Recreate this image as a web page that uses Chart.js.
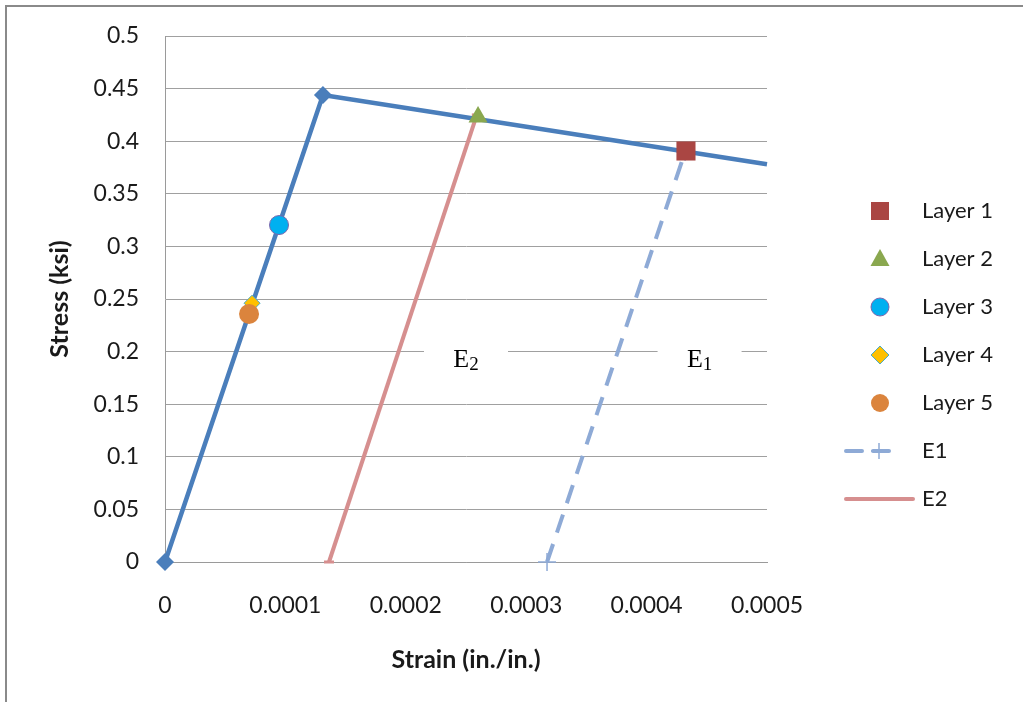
<!DOCTYPE html>
<html>
<head>
<meta charset="utf-8">
<script src="https://cdn.jsdelivr.net/npm/chart.js@4/dist/chart.umd.min.js"></script>
<style>
html,body{margin:0;padding:0;background:#fff;overflow:hidden}
#wrap{position:relative;width:1023px;height:702px}
</style>
</head>
<body>
<div id="wrap"><canvas id="c" width="1023" height="702"></canvas></div>
<script>
// ---- data ----
const xTickLabels = ['0', '0.0001', '0.0002', '0.0003', '0.0004', '0.0005'];
const yTickLabels = ['0', '0.05', '0.1', '0.15', '0.2', '0.25', '0.3', '0.35', '0.4', '0.45', '0.5'];

const curveStrain = [0, 0.0001312, 0.0005];
const curveStress = [0, 0.444, 0.378];

const e1Strain = [0.0003173, 0.000432];
const e1Stress = [0, 0.390];

const e2Strain = [0.0001362, 0.000259];
const e2Stress = [0, 0.425];

const layerNames = ['Layer 1', 'Layer 2', 'Layer 3', 'Layer 4', 'Layer 5'];
const layerStrain = [0.0004327, 0.000260, 0.0000947, 0.0000723, 0.0000698];
const layerStress = [0.3907, 0.423, 0.3203, 0.246, 0.2357];

const lineNames = ['E1', 'E2'];
const annotationTexts = [['E', '2'], ['E', '1']];
const annotationStrain = [0.000250, 0.000444];
const annotationStress = [0.2, 0.2];

// ---- layout constants ----
const PAD = {left: 45, right: 256, top: 36, bottom: 27};
const AREA = {left: 165, bottom: 562};

// ---- styles ----
const layerStyles = [
  {pointStyle: 'rect', radius: 13.5, bg: '#aa4643', border: '#aa4643', bw: 0},
  {pointStyle: 'triangle', radius: 11, bg: '#8aa84f', border: '#8aa84f', bw: 0},
  {pointStyle: 'circle', radius: 9.5, bg: '#00b0f0', border: '#7b68ae', bw: 1},
  {pointStyle: 'rectRot', radius: 8, bg: '#ffc000', border: '#4bacc6', bw: 1},
  {pointStyle: 'circle', radius: 10, bg: '#db843d', border: '#db843d', bw: 0}
];
const layerOrder = [5, 4, 3, 2, 1];
const toXY = (xs, ys) => xs.map((x, i) => ({x: x, y: ys[i]}));

const datasets = [];
layerNames.forEach((name, i) => {
  const s = layerStyles[i];
  datasets.push({
    label: name,
    data: [{x: layerStrain[i], y: layerStress[i]}],
    showLine: false,
    pointStyle: s.pointStyle,
    pointRadius: s.radius,
    pointBackgroundColor: s.bg,
    pointBorderColor: s.border,
    pointBorderWidth: s.bw,
    order: layerOrder[i],
    clip: false
  });
});

datasets.push({
  label: 'curve',
  data: toXY(curveStrain, curveStress),
  showLine: true,
  borderColor: '#4a7ebb',
  borderWidth: 4.5,
  pointStyle: 'rectRot',
  pointRadius: [9, 9, 0],
  pointBackgroundColor: '#4a7ebb',
  pointBorderColor: '#4a7ebb',
  pointBorderWidth: 0,
  order: 6,
  clip: false
});
datasets.push({
  label: lineNames[0],
  data: toXY(e1Strain, e1Stress),
  showLine: true,
  borderColor: '#8eaad6',
  borderWidth: 4,
  borderDash: [19, 12],
  pointStyle: 'cross',
  pointRadius: 9,
  pointBorderColor: '#8eaad6',
  pointBorderWidth: 1.5,
  order: 8,
  clip: false
});
datasets.push({
  label: lineNames[1],
  data: toXY(e2Strain, e2Stress),
  showLine: true,
  borderColor: '#d68f8f',
  borderWidth: 4,
  pointStyle: 'line',
  pointRadius: 5,
  pointBorderColor: '#d68f8f',
  pointBorderWidth: 3,
  order: 7,
  clip: false
});

// ---- plugins ----
const framePlugin = {
  id: 'frame',
  beforeDraw(chart) {
    const ctx = chart.ctx;
    ctx.save();
    ctx.fillStyle = '#fff';
    ctx.fillRect(0, 0, chart.width, chart.height);
    ctx.strokeStyle = '#8a8a8a';
    ctx.lineWidth = 2;
    ctx.beginPath();
    ctx.moveTo(6, 720); ctx.lineTo(6, 6); ctx.lineTo(1100, 6);
    ctx.stroke();
    ctx.restore();
  }
};

const serifBig = '26px "Liberation Serif", "Times New Roman", serif';
const serifSmall = '19px "Liberation Serif", "Times New Roman", serif';
const annotationPlugin = {
  id: 'eLabels',
  beforeDatasetsDraw(chart) {
    const ctx = chart.ctx;
    const xs = chart.scales.x, ys = chart.scales.y;
    ctx.save();
    annotationTexts.forEach((t, i) => {
      const cx = xs.getPixelForValue(annotationStrain[i]);
      const cy = ys.getPixelForValue(annotationStress[i]);
      ctx.fillStyle = '#fff';
      ctx.fillRect(cx - 42, cy - 16, 84, 32);
      ctx.fillStyle = '#000';
      ctx.textBaseline = 'alphabetic';
      ctx.font = serifBig;
      const wE = ctx.measureText(t[0]).width;
      ctx.font = serifSmall;
      const wS = ctx.measureText(t[1]).width;
      const x0 = cx - (wE + wS) / 2;
      ctx.font = serifBig;
      ctx.fillText(t[0], x0, cy + 15);
      ctx.font = serifSmall;
      ctx.fillText(t[1], x0 + wE, cy + 18);
    });
    ctx.restore();
  }
};

const legendPlugin = {
  id: 'customLegend',
  afterDraw(chart) {
    const ctx = chart.ctx;
    const symX = 880, textX = 922, y0 = 211, step = 48;
    ctx.save();
    ctx.font = '22px Lato, sans-serif';
    ctx.textBaseline = 'middle';
    ctx.textAlign = 'left';
    const all = layerNames.concat(lineNames);
    all.forEach((name, i) => {
      const y = y0 + i * step;
      if (i < layerNames.length) {
        const s = layerStyles[i];
        ctx.fillStyle = s.bg; ctx.strokeStyle = s.border; ctx.lineWidth = s.bw || 0;
        ctx.beginPath();
        if (s.pointStyle === 'rect') {
          ctx.rect(symX - 9, y - 9, 18, 18);
        } else if (s.pointStyle === 'triangle') {
          ctx.moveTo(symX, y - 10); ctx.lineTo(symX + 9.5, y + 7); ctx.lineTo(symX - 9.5, y + 7); ctx.closePath();
        } else if (s.pointStyle === 'circle') {
          ctx.arc(symX, y, 9, 0, Math.PI * 2);
        } else if (s.pointStyle === 'rectRot') {
          ctx.moveTo(symX, y - 9); ctx.lineTo(symX + 9, y); ctx.lineTo(symX, y + 9); ctx.lineTo(symX - 9, y); ctx.closePath();
        }
        ctx.fill();
        if (s.bw) ctx.stroke();
      } else if (name === lineNames[0]) {
        const ds = datasets[datasets.length - 2];
        ctx.strokeStyle = ds.borderColor; ctx.lineWidth = 4; ctx.lineCap = 'round';
        ctx.setLineDash([16, 11]);
        ctx.beginPath(); ctx.moveTo(846, y); ctx.lineTo(898, y); ctx.stroke();
        ctx.setLineDash([]); ctx.lineCap = 'butt'; ctx.lineWidth = 1.5;
        ctx.beginPath(); ctx.moveTo(879, y - 8); ctx.lineTo(879, y + 8); ctx.moveTo(871, y); ctx.lineTo(887, y); ctx.stroke();
      } else {
        const ds = datasets[datasets.length - 1];
        ctx.strokeStyle = ds.borderColor; ctx.lineWidth = 4; ctx.lineCap = 'round';
        ctx.beginPath(); ctx.moveTo(846, y); ctx.lineTo(913, y); ctx.stroke();
      }
      ctx.fillStyle = '#1a1a1a';
      ctx.fillText(name, textX, y);
    });
    ctx.restore();
  }
};

Chart.defaults.font.family = 'Lato, sans-serif';
Chart.defaults.color = '#1a1a1a';

const chart = new Chart(document.getElementById('c'), {
  type: 'scatter',
  data: {datasets: datasets},
  options: {
    responsive: false,
    devicePixelRatio: 1,
    animation: false,
    events: [],
    layout: {padding: PAD},
    plugins: {legend: {display: false}, tooltip: {enabled: false}},
    scales: {
      x: {
        type: 'linear',
        min: 0, max: 0.0005,
        afterFit(scale) {
          scale.height = 702 - PAD.bottom - AREA.bottom;
          scale.paddingLeft = 0; scale.paddingRight = 0;
        },
        grid: {display: false, drawTicks: false},
        border: {display: true, color: '#9a9a9a', width: 1},
        ticks: {
          stepSize: 0.0001,
          padding: 30,
          font: {size: 23},
          color: '#1a1a1a',
          maxRotation: 0,
          callback: (v, i) => xTickLabels[i]
        },
        title: {display: true, text: 'Strain (in./in.)', font: {size: 25, weight: 'bold'}, color: '#1a1a1a', padding: {top: 0, bottom: 0}}
      },
      y: {
        type: 'linear',
        min: 0, max: 0.5,
        afterFit(scale) {
          scale.width = AREA.left - PAD.left;
          scale.paddingTop = 0; scale.paddingBottom = 0;
        },
        grid: {display: true, color: '#a0a0a0', lineWidth: 1, drawTicks: false},
        border: {display: true, color: '#9a9a9a', width: 1},
        ticks: {
          stepSize: 0.05,
          padding: 26,
          font: {size: 23},
          color: '#1a1a1a',
          callback: (v, i) => yTickLabels[i]
        },
        title: {display: true, text: 'Stress (ksi)', font: {size: 25, weight: 'bold'}, color: '#1a1a1a', padding: {top: 0, bottom: 0}}
      }
    }
  },
  plugins: [framePlugin, annotationPlugin, legendPlugin]
});

if (document.fonts && document.fonts.load) {
  Promise.all([
    document.fonts.load('23px Lato'),
    document.fonts.load('bold 25px Lato'),
    document.fonts.load('26px "Liberation Serif"')
  ]).then(() => chart.update()).catch(() => {});
}
</script>
</body>
</html>
